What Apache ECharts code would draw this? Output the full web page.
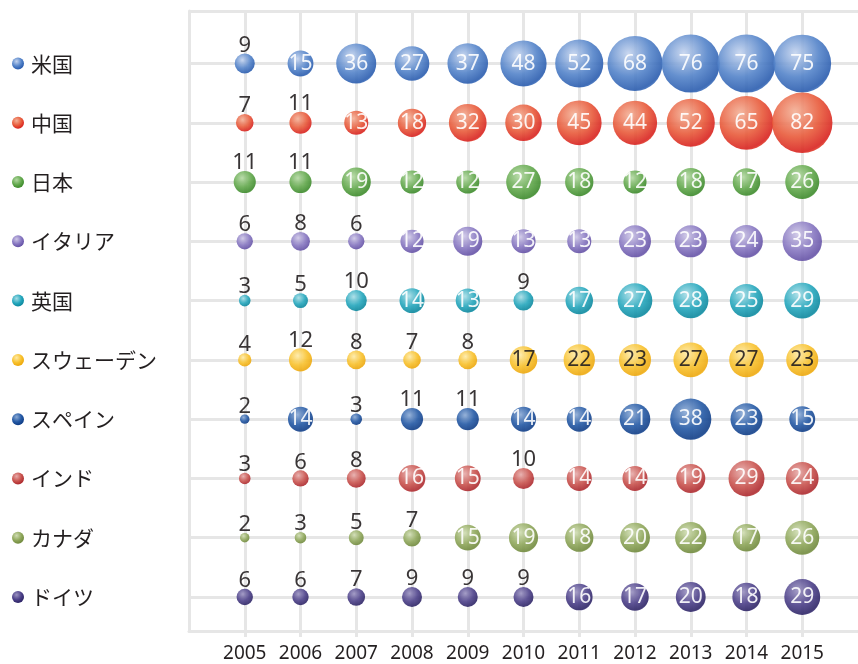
<!DOCTYPE html>
<html>
<head>
<meta charset="utf-8">
<script src="https://cdn.jsdelivr.net/npm/echarts@6/dist/echarts.min.js"></script>
<style>
  html, body { margin: 0; padding: 0; background: #ffffff; }
  #main { width: 858px; height: 664px; }
</style>
</head>
<body>
<div id="main"></div>
<script>
// Years on the horizontal axis
const years = [2005, 2006, 2007, 2008, 2009, 2010, 2011, 2012, 2013, 2014, 2015];

// Countries, top row first
const countries = ['米国', '中国', '日本', 'イタリア', '英国', 'スウェーデン', 'スペイン', 'インド', 'カナダ', 'ドイツ'];

// Counts per country and year
const usa     = [9, 15, 36, 27, 37, 48, 52, 68, 76, 76, 75];
const china   = [7, 11, 13, 18, 32, 30, 45, 44, 52, 65, 82];
const japan   = [11, 11, 19, 12, 12, 27, 18, 12, 18, 17, 26];
const italy   = [6, 8, 6, 12, 19, 13, 13, 23, 23, 24, 35];
const uk      = [3, 5, 10, 14, 13, 9, 17, 27, 28, 25, 29];
const sweden  = [4, 12, 8, 7, 8, 17, 22, 23, 27, 27, 23];
const spain   = [2, 14, 3, 11, 11, 14, 14, 21, 38, 23, 15];
const india   = [3, 6, 8, 16, 15, 10, 14, 14, 19, 29, 24];
const canada  = [2, 3, 5, 7, 15, 19, 18, 20, 22, 17, 26];
const germany = [6, 6, 7, 9, 9, 9, 16, 17, 20, 18, 29];

const rows = [usa, china, japan, italy, uk, sweden, spain, india, canada, germany];

// Sphere shading per country: [highlight, base, shadow]
const palette = [
  ['#c3d3ee', '#5383c9', '#2a5cae'],
  ['#f3b096', '#e85a3a', '#d8221f'],
  ['#b3d8a2', '#62a84c', '#3d8a2c'],
  ['#cdc6e6', '#8777c1', '#6552a6'],
  ['#a6dde6', '#25a7bd', '#0d889e'],
  ['#feeaa6', '#f8c12c', '#eda80e'],
  ['#8aa9d4', '#2459a5', '#113e87'],
  ['#e6aaa8', '#c9534e', '#ad2a2f'],
  ['#cfdcb2', '#8fa75b', '#718a3e'],
  ['#9a92c0', '#4c4089', '#2e2566']
];
const labelInk = ['#ffffff', '#ffffff', '#ffffff', '#ffffff', '#ffffff', '#231f20', '#ffffff', '#ffffff', '#ffffff', '#ffffff'];
// smallest value whose label sits inside the bubble
const insideFrom = [12, 12, 12, 12, 12, 13, 12, 12, 12, 12];

const ink = '#231f20';
const gridGray = '#e6e6e6';

function sphere(c) {
  return new echarts.graphic.RadialGradient(0.38, 0.32, 0.75, [
    { offset: 0, color: c[0] },
    { offset: 0.55, color: c[1] },
    { offset: 0.9, color: c[2] },
    { offset: 1, color: c[1] }
  ]);
}

const rowCount = countries.length;
const rowValue = i => rowCount - 1 - i;

const series = rows.map((vals, i) => ({
  name: countries[i],
  type: 'scatter',
  symbol: 'circle',
  symbolSize: d => 6.67 * Math.sqrt(d[2]),
  itemStyle: { color: sphere(palette[i]), opacity: 0.9 },
  emphasis: { disabled: true },
  data: vals.map((v, j) => {
    const inside = v >= insideFrom[i];
    return {
      value: [years[j], rowValue(i), v],
      label: {
        show: true,
        position: inside ? 'inside' : 'top',
        distance: -3,
        color: inside ? labelInk[i] : ink,
        fontFamily: 'Noto Sans',
        fontSize: inside ? 21 : 22,
        formatter: p => p.value[2]
      }
    };
  })
}));

const rich = {
  n: { fontFamily: 'Noto Sans CJK JP', fontSize: 21, color: ink, padding: [0, 0, 0, 7] }
};
palette.forEach((c, i) => {
  rich['d' + i] = {
    width: 12, height: 12, borderRadius: 6,
    backgroundColor: sphere(c)
  };
});

const chart = echarts.init(document.getElementById('main'), null, { renderer: 'canvas' });
chart.setOption({
  animation: false,
  backgroundColor: '#ffffff',
  grid: { left: 189, right: -11, top: 11, bottom: 33, containLabel: false },
  xAxis: {
    type: 'value',
    min: 2004,
    max: 2016,
    axisLine: { show: true, onZero: false, lineStyle: { color: gridGray, width: 3 } },
    axisTick: { show: true, length: 6, customValues: years, lineStyle: { color: gridGray, width: 3 } },
    axisLabel: {
      customValues: years,
      margin: 13,
      color: ink,
      fontFamily: 'Noto Sans',
      fontSize: 19,
      formatter: v => String(v)
    },
    splitLine: { show: true, lineStyle: { color: gridGray, width: 3 } }
  },
  yAxis: {
    type: 'value',
    min: -0.574,
    max: 9.886,
    axisLine: { show: true, onZero: false, lineStyle: { color: gridGray, width: 3 } },
    axisTick: { show: false, customValues: [0, 1, 2, 3, 4, 5, 6, 7, 8, 9, 9.886] },
    axisLabel: {
      customValues: [0, 1, 2, 3, 4, 5, 6, 7, 8, 9],
      align: 'left',
      margin: 177,
      formatter: v => {
        const i = rowCount - 1 - Math.round(v);
        return '{d' + i + '|}{n|' + countries[i] + '}';
      },
      rich: rich
    },
    splitLine: { show: true, lineStyle: { color: gridGray, width: 3 } }
  },
  series: series
});
</script>
</body>
</html>
